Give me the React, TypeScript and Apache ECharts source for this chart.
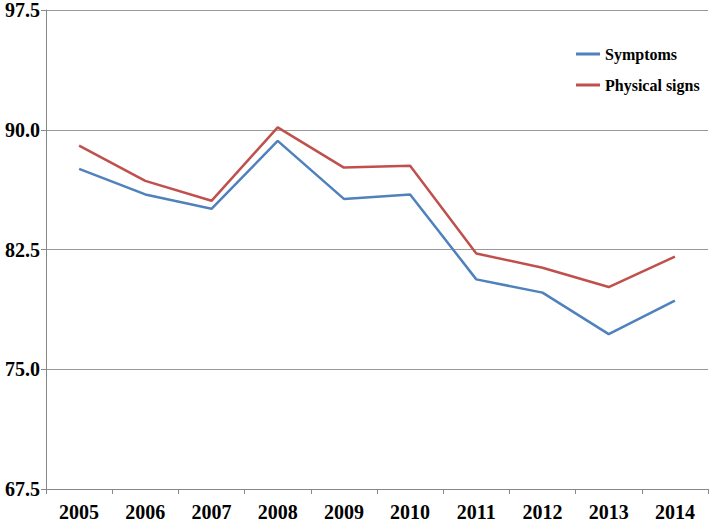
import React, { useEffect, useRef } from "react";
import * as echarts from "echarts";

const years = ["2005", "2006", "2007", "2008", "2009", "2010", "2011", "2012", "2013", "2014"];
const symptoms = [87.55, 85.95, 85.05, 89.3, 85.67, 85.95, 80.63, 79.8, 77.2, 79.3];
const physicalSigns = [89.0, 86.8, 85.55, 90.15, 87.63, 87.74, 82.25, 81.36, 80.15, 82.05];
const yMin = 67.5;
const yMax = 97.5;
const yStep = 7.5;

export default function App() {
  const ref = useRef<HTMLDivElement>(null);
  useEffect(() => {
    if (!ref.current) return;
    const chart = echarts.init(ref.current, null, { renderer: "svg" });
    const font = "Liberation Serif";
    chart.setOption({
      animation: false,
      backgroundColor: "#ffffff",
      grid: { left: 46, right: 1, top: 6, bottom: 31, containLabel: false },
      legend: {
        orient: "vertical",
        left: 571,
        top: 41,
        icon: "rect",
        itemWidth: 24,
        itemHeight: 3,
        itemGap: 15,
        textStyle: { fontFamily: font, fontWeight: "bold", fontSize: 16, color: "#000", lineHeight: 16 },
        data: ["Symptoms", "Physical signs"],
      },
      xAxis: {
        type: "category",
        data: years,
        boundaryGap: true,
        axisLine: { lineStyle: { color: "#888888", width: 1 } },
        axisTick: { show: true, length: 5, alignWithLabel: false, lineStyle: { color: "#888888" } },
        axisLabel: { fontFamily: font, fontWeight: "bold", fontSize: 20, color: "#000", margin: 13 },
      },
      yAxis: {
        type: "value",
        min: yMin,
        max: yMax,
        interval: yStep,
        axisLine: { show: true, lineStyle: { color: "#888888", width: 1 } },
        axisTick: { show: true, length: 5, lineStyle: { color: "#888888" } },
        splitLine: { show: true, lineStyle: { color: "#999999", width: 1 } },
        axisLabel: {
          fontFamily: font,
          fontWeight: "bold",
          fontSize: 20,
          color: "#000",
          margin: 6,
          formatter: (v: number) => v.toFixed(1),
        },
      },
      series: [
        {
          name: "Symptoms",
          type: "line",
          data: symptoms,
          showSymbol: false,
          symbol: "none",
          lineStyle: { color: "#4F81BD", width: 2.5 },
          itemStyle: { color: "#4F81BD" },
        },
        {
          name: "Physical signs",
          type: "line",
          data: physicalSigns,
          showSymbol: false,
          symbol: "none",
          lineStyle: { color: "#C0504D", width: 2.5 },
          itemStyle: { color: "#C0504D" },
        },
      ],
    });
    return () => chart.dispose();
  }, []);
  return (
    <div
      ref={ref}
      style={{ position: "fixed", left: 0, top: 0, width: 709, height: 522, background: "#fff" }}
    />
  );
}
